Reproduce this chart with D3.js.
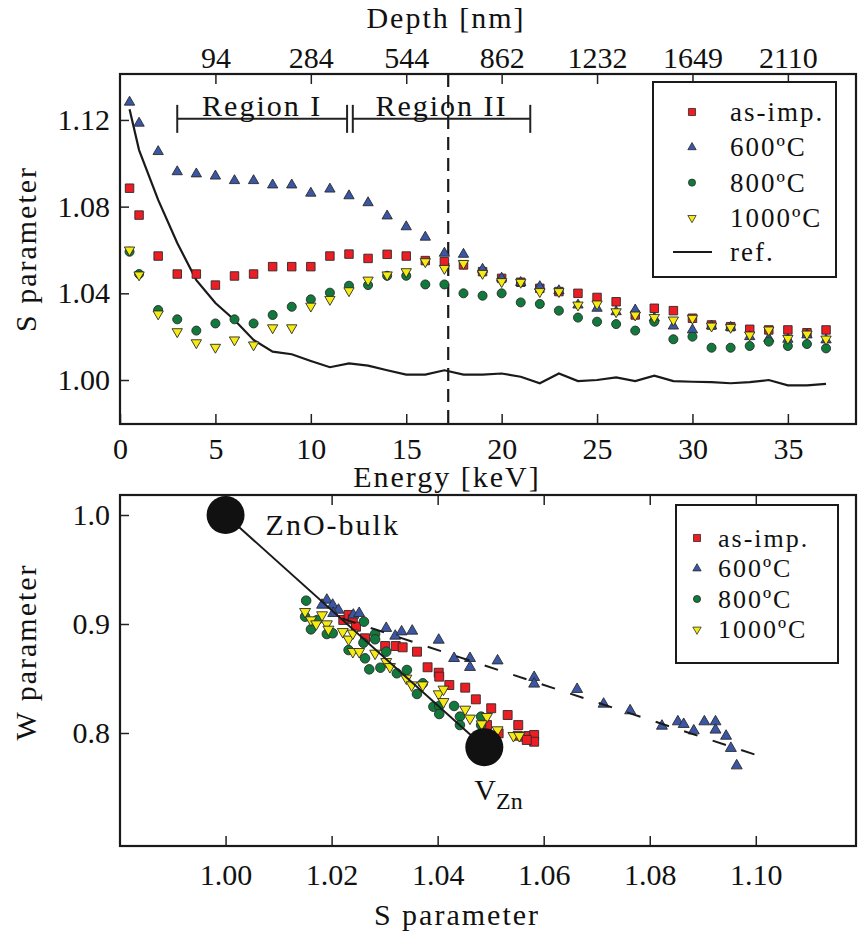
<!DOCTYPE html>
<html>
<head>
<meta charset="utf-8">
<script src="https://cdn.jsdelivr.net/npm/d3@7"></script>
<style>
    body { margin: 0; background: #fff; }
    svg text { font-family: "Liberation Serif", serif; fill: #111; }
    .word { letter-spacing: 2px; }
</style>
</head>
<body>
<svg id="fig" width="858" height="936"></svg>
<script>
// ---- top panel: S parameter vs positron energy ----
const energy = [0.5, 1, 2, 3, 4, 5, 6, 7, 8, 9, 10, 11, 12, 13, 14, 15, 16, 17, 18, 19,
    20, 21, 22, 23, 24, 25, 26, 27, 28, 29, 30, 31, 32, 33, 34, 35, 36, 37];
const s_asimp = [1.0885, 1.0761, 1.0572, 1.0489, 1.0489, 1.0438, 1.0480, 1.0489, 1.0523, 1.0523,
    1.0523, 1.0572, 1.0581, 1.0561, 1.0580, 1.0572, 1.0551, 1.0546, 1.0531, 1.0500,
    1.0469, 1.0451, 1.0423, 1.0408, 1.0400, 1.0381, 1.0361, 1.0300, 1.0331, 1.0320,
    1.0285, 1.0254, 1.0246, 1.0234, 1.0231, 1.0231, 1.0218, 1.0231];
const s_600 = [1.1282, 1.1185, 1.1054, 1.0961, 1.0951, 1.0941, 1.0920, 1.0920, 1.0900, 1.0900,
    1.0862, 1.0881, 1.0850, 1.0818, 1.0757, 1.0707, 1.0659, 1.0585, 1.0580, 1.0511,
    1.0470, 1.0450, 1.0431, 1.0412, 1.0346, 1.0331, 1.0315, 1.0323, 1.0286, 1.0249,
    1.0231, 1.0249, 1.0243, 1.0200, 1.0192, 1.0188, 1.0208, 1.0185];
const s_800 = [1.0592, 1.0489, 1.0323, 1.0280, 1.0228, 1.0261, 1.0280, 1.0261, 1.0300, 1.0338,
    1.0372, 1.0403, 1.0435, 1.0438, 1.0481, 1.0481, 1.0441, 1.0441, 1.0400, 1.0389,
    1.0400, 1.0358, 1.0351, 1.0320, 1.0288, 1.0269, 1.0258, 1.0228, 1.0269, 1.0188,
    1.0200, 1.0149, 1.0149, 1.0157, 1.0177, 1.0157, 1.0166, 1.0146];
const s_1000 = [1.0600, 1.0485, 1.0305, 1.0223, 1.0172, 1.0151, 1.0185, 1.0162, 1.0241, 1.0241,
    1.0341, 1.0372, 1.0412, 1.0461, 1.0485, 1.0500, 1.0546, 1.0515, 1.0538, 1.0492,
    1.0454, 1.0451, 1.0408, 1.0408, 1.0346, 1.0351, 1.0315, 1.0300, 1.0289, 1.0277,
    1.0285, 1.0249, 1.0243, 1.0208, 1.0231, 1.0192, 1.0212, 1.0189];
const s_ref = [1.1249, 1.1061, 1.0831, 1.0632, 1.0461, 1.0355, 1.0277, 1.0185, 1.0131, 1.0119,
    1.0088, 1.0059, 1.0077, 1.0066, 1.0045, 1.0025, 1.0025, 1.0045, 1.0025, 1.0025,
    1.0030, 1.0015, 0.9985, 1.0030, 0.9995, 1.0000, 1.0012, 0.9995, 1.0020, 0.9995,
    0.9992, 0.9990, 0.9985, 0.9990, 1.0000, 0.9975, 0.9975, 0.9982];

const energy_ticks = [0, 5, 10, 15, 20, 25, 30, 35];
const depth_ticks = [5, 10, 15, 20, 25, 30, 35];
const depth_labels = ['94', '284', '544', '862', '1232', '1649', '2110'];
const s_ticks = [1.00, 1.04, 1.08, 1.12];
const border_energy = 17.2;
const regions = [
    {'name': 'Region I', 'from': 3.0, 'to': 11.9},
    {'name': 'Region II', 'from': 12.2, 'to': 21.5}
];
const region_level = 1.1205;

// ---- bottom panel: W vs S ----
const w_asimp_s = [1.0222, 1.0232, 1.0240, 1.0246, 1.0263, 1.0301, 1.0321, 1.0334, 1.0361, 1.0381,
    1.0402, 1.0403, 1.0422, 1.0452, 1.0472, 1.0501, 1.0532, 1.0552, 1.0493, 1.0515,
    1.0551, 1.0562, 1.0571, 1.0582, 1.0582, 1.0568];
const w_asimp_w = [0.9037, 0.9083, 0.9043, 0.8975, 0.8869, 0.8798, 0.8798, 0.8786, 0.8746, 0.8603,
    0.8553, 0.8517, 0.8440, 0.8416, 0.8309, 0.8227, 0.8165, 0.8073, 0.8073, 0.7997,
    0.7975, 0.7966, 0.7972, 0.7982, 0.7920, 0.7936];
const w_600_s = [1.0191, 1.0182, 1.0202, 1.0213, 1.0203, 1.0241, 1.0252, 1.0303, 1.0320, 1.0332,
    1.0352, 1.0402, 1.0431, 1.0461, 1.0461, 1.0513, 1.0582, 1.0582, 1.0663, 1.0713,
    1.0763, 1.0823, 1.0853, 1.0864, 1.0883, 1.0903, 1.0924, 1.0924, 1.0944, 1.0953, 1.0964];
const w_600_w = [0.9220, 0.9174, 0.9174, 0.9128, 0.9098, 0.9083, 0.9098, 0.8961, 0.8890, 0.8929,
    0.8936, 0.8853, 0.8685, 0.8685, 0.8603, 0.8663, 0.8511, 0.8450, 0.8401, 0.8266,
    0.8205, 0.8064, 0.8104, 0.8080, 0.8021, 0.8104, 0.8104, 0.8028, 0.7972, 0.7860, 0.7700];
const w_800_s = [1.0152, 1.0150, 1.0161, 1.0173, 1.0191, 1.0202, 1.0261, 1.0282, 1.0282, 1.0260,
    1.0232, 1.0263, 1.0271, 1.0292, 1.0303, 1.0323, 1.0342, 1.0361, 1.0372, 1.0392,
    1.0403, 1.0403, 1.0431, 1.0442, 1.0442, 1.0482, 1.0482];
const w_800_w = [0.9214, 0.9067, 0.8951, 0.9037, 0.8908, 0.8915, 0.9021, 0.8908, 0.8860, 0.8828,
    0.8761, 0.8685, 0.8584, 0.8599, 0.8746, 0.8548, 0.8578, 0.8358, 0.8456, 0.8241,
    0.8248, 0.8174, 0.8248, 0.8150, 0.8073, 0.8150, 0.8073];
const w_1000_s = [1.0150, 1.0161, 1.0171, 1.0182, 1.0191, 1.0194, 1.0221, 1.0232, 1.0240, 1.0240,
    1.0252, 1.0282, 1.0303, 1.0310, 1.0341, 1.0351, 1.0372, 1.0402, 1.0411, 1.0411,
    1.0452, 1.0461, 1.0493, 1.0483, 1.0513, 1.0543, 1.0554];
const w_1000_w = [0.9113, 0.9037, 0.9000, 0.9083, 0.9000, 0.8951, 0.8929, 0.8860, 0.8915, 0.8746,
    0.8746, 0.8731, 0.8654, 0.8608, 0.8502, 0.8440, 0.8440, 0.8358, 0.8401, 0.8287,
    0.8217, 0.8135, 0.8150, 0.8083, 0.8028, 0.7975, 0.7975];

const bulk = {'s': 1.000, 'w': 1.000};
const vzn = {'s': 1.0488, 'w': 0.787};
const fit_s = [1.022, 1.100];
const fit_w = [0.905, 0.780];
const sb_ticks = [1.00, 1.02, 1.04, 1.06, 1.08, 1.10];
const w_ticks = [0.8, 0.9, 1.0];

const labels = ['as-imp.', '600ºC', '800ºC', '1000ºC'];
const fills = ['#ee1d24', '#3a56a5', '#10793b', '#f5ea12'];
const shapes = [d3.symbolSquare, d3.symbolTriangle, d3.symbolCircle, d3.symbolTriangle];
const flips = [false, false, false, true];

// -------- layout and scales --------
const top_box = {left: 120, right: 856, top: 74, bottom: 424};
const bot_box = {left: 120, right: 856, top: 495, bottom: 846};

const x_e = d3.scaleLinear().domain([0, 38.57]).range([top_box.left, top_box.right]);
const y_s = d3.scaleLinear().domain([0.9797, 1.1412]).range([top_box.bottom, top_box.top]);
const x_s = d3.scaleLinear().domain([0.98009, 1.1189]).range([bot_box.left, bot_box.right]);
const y_w = d3.scaleLinear().domain([0.69633, 1.01835]).range([bot_box.bottom, bot_box.top]);

const svg = d3.select('svg#fig');

function marker(i, size) {
    return d3.symbol().type(shapes[i]).size(size)();
}
function place(x, y, i) {
    return 'translate(' + x + ',' + y + ')' + (flips[i] ? ' rotate(180)' : '');
}
function style_axis(g) {
    g.select('.domain').remove();
    g.selectAll('.tick line').attr('stroke', '#222').attr('stroke-width', 1.5);
    g.selectAll('.tick text').style('font-size', '30px').attr('fill', '#111');
}
function frame(box) {
    svg.append('rect')
        .attr('x', box.left).attr('y', box.top)
        .attr('width', box.right - box.left).attr('height', box.bottom - box.top)
        .attr('fill', 'none').attr('stroke', '#1a1a1a').attr('stroke-width', 2.2);
}

// ================= TOP PANEL =================
svg.append('g')
    .attr('transform', 'translate(0,' + top_box.bottom + ')')
    .call(d3.axisBottom(x_e).tickValues(energy_ticks).tickFormat(d3.format('d')).tickSize(-10).tickPadding(14))
    .call(style_axis);
svg.append('g')
    .attr('transform', 'translate(0,' + top_box.top + ')')
    .call(d3.axisTop(x_e).tickValues(depth_ticks).tickFormat((d, i) => depth_labels[i]).tickSize(-10).tickPadding(6))
    .call(style_axis);
svg.append('g')
    .attr('transform', 'translate(' + top_box.left + ',0)')
    .call(d3.axisLeft(y_s).tickValues(s_ticks).tickFormat(d3.format('.2f')).tickSize(-9).tickPadding(10))
    .call(style_axis);

// border between regions (dashed)
svg.append('line')
    .attr('x1', x_e(border_energy)).attr('x2', x_e(border_energy))
    .attr('y1', top_box.top).attr('y2', top_box.bottom)
    .attr('stroke', '#1a1a1a').attr('stroke-width', 2.2).attr('stroke-dasharray', '13,8');

// region brackets
let reg = svg.append('g').attr('id', 'regions');
regions.forEach(r => {
    let y = y_s(region_level);
    reg.append('line')
        .attr('x1', x_e(r.from)).attr('x2', x_e(r.to)).attr('y1', y).attr('y2', y)
        .attr('stroke', '#222').attr('stroke-width', 2);
    [r.from, r.to].forEach(e => {
        reg.append('line')
            .attr('x1', x_e(e)).attr('x2', x_e(e)).attr('y1', y - 14).attr('y2', y + 14)
            .attr('stroke', '#222').attr('stroke-width', 2);
    });
    reg.append('text')
        .attr('class', 'word')
        .attr('x', x_e((r.from + r.to) / 2)).attr('y', y - 3)
        .attr('text-anchor', 'middle')
        .style('font-size', '30px')
        .text(r.name);
});

// reference line
svg.append('path')
    .datum(energy.map((e, i) => [e, s_ref[i]]))
    .attr('d', d3.line().x(d => x_e(d[0])).y(d => y_s(d[1])))
    .attr('fill', 'none').attr('stroke', '#1a1a1a').attr('stroke-width', 2.2);

// the four samples
const top_series = [s_asimp, s_600, s_800, s_1000];
top_series.forEach((vals, i) => {
    svg.append('g').selectAll('path')
        .data(energy.map((e, j) => [e, vals[j]]))
        .enter()
        .append('path')
        .attr('d', marker(i, i === 2 ? 64 : (i === 0 ? 72 : 46)))
        .attr('transform', d => place(x_e(d[0]), y_s(d[1]), i))
        .attr('fill', fills[i]).attr('stroke', '#2a2a2a').attr('stroke-width', 0.9);
});

frame(top_box);

// legend top
let leg = svg.append('g').attr('id', 'legend_top');
leg.append('rect').attr('x', 653).attr('y', 82).attr('width', 183).attr('height', 195)
    .attr('fill', '#fff').attr('stroke', '#1a1a1a').attr('stroke-width', 2);
labels.forEach((l, i) => {
    let y = 112 + i * 35.3;
    leg.append('path').attr('d', marker(i, i === 2 ? 40 : (i === 0 ? 50 : 30)))
        .attr('transform', place(692, y, i))
        .attr('fill', fills[i]).attr('stroke', '#2a2a2a').attr('stroke-width', 0.8);
    leg.append('text').attr('class', 'word').attr('x', 730).attr('y', y).attr('dy', '0.33em')
        .style('font-size', '27px').text(l);
});
leg.append('line').attr('x1', 673).attr('x2', 712).attr('y1', 252).attr('y2', 252)
    .attr('stroke', '#1a1a1a').attr('stroke-width', 2.2);
leg.append('text').attr('class', 'word').attr('x', 730).attr('y', 252).attr('dy', '0.33em')
    .style('font-size', '27px').text('ref.');

// axis titles
svg.append('text').attr('class', 'word').attr('x', 446).attr('y', 28).attr('text-anchor', 'middle')
    .style('font-size', '30px').text('Depth [nm]');
svg.append('text').attr('class', 'word').attr('x', 447).attr('y', 487).attr('text-anchor', 'middle')
    .style('font-size', '30px').text('Energy [keV]');
svg.append('text').attr('class', 'word').attr('transform', 'translate(36,249) rotate(-90)')
    .attr('text-anchor', 'middle').style('font-size', '30px').text('S parameter');

// ================= BOTTOM PANEL =================
svg.append('g')
    .attr('transform', 'translate(0,' + bot_box.bottom + ')')
    .call(d3.axisBottom(x_s).tickValues(sb_ticks).tickFormat(d3.format('.2f')).tickSize(-10).tickPadding(18))
    .call(style_axis);
svg.append('g')
    .attr('transform', 'translate(0,' + bot_box.top + ')')
    .call(d3.axisTop(x_s).tickValues(sb_ticks).tickFormat('').tickSize(-10))
    .call(style_axis);
svg.append('g')
    .attr('transform', 'translate(' + bot_box.left + ',0)')
    .call(d3.axisLeft(y_w).tickValues(w_ticks).tickFormat(d3.format('.1f')).tickSize(-9).tickPadding(10))
    .call(style_axis);

const bot_series = [[w_asimp_s, w_asimp_w], [w_600_s, w_600_w], [w_800_s, w_800_w], [w_1000_s, w_1000_w]];
bot_series.forEach((ser, i) => {
    svg.append('g').selectAll('path')
        .data(ser[0].map((s, j) => [s, ser[1][j]]))
        .enter()
        .append('path')
        .attr('d', marker(i, i === 2 ? 72 : (i === 0 ? 80 : 52)))
        .attr('transform', d => place(x_s(d[0]), y_w(d[1]), i))
        .attr('fill', fills[i]).attr('stroke', '#2a2a2a').attr('stroke-width', 0.9);
});

// lines: bulk -> V_Zn (solid) and the 600C trend (dashed)
svg.append('line')
    .attr('x1', x_s(bulk.s)).attr('y1', y_w(bulk.w)).attr('x2', x_s(vzn.s)).attr('y2', y_w(vzn.w))
    .attr('stroke', '#1a1a1a').attr('stroke-width', 2);
svg.append('line')
    .attr('x1', x_s(fit_s[0])).attr('y1', y_w(fit_w[0])).attr('x2', x_s(fit_s[1])).attr('y2', y_w(fit_w[1]))
    .attr('stroke', '#1a1a1a').attr('stroke-width', 2).attr('stroke-dasharray', '14,16');

[bulk, vzn].forEach(p => {
    svg.append('circle').attr('cx', x_s(p.s)).attr('cy', y_w(p.w)).attr('r', 19).attr('fill', '#111');
});
svg.append('text').attr('class', 'word').attr('x', x_s(bulk.s) + 40).attr('y', y_w(bulk.w) + 20)
    .style('font-size', '30px').text('ZnO-bulk');
let vlab = svg.append('text').attr('x', x_s(vzn.s) - 10).attr('y', y_w(vzn.w) + 53).style('font-size', '30px');
vlab.append('tspan').text('V');
vlab.append('tspan').attr('dy', 9).style('font-size', '24px').text('Zn');

frame(bot_box);

// legend bottom
let leg2 = svg.append('g').attr('id', 'legend_bot');
leg2.append('rect').attr('x', 676).attr('y', 505).attr('width', 162).attr('height', 158)
    .attr('fill', '#fff').attr('stroke', '#1a1a1a').attr('stroke-width', 2);
labels.forEach((l, i) => {
    let y = 538 + i * 30.5;
    leg2.append('path').attr('d', marker(i, i === 2 ? 40 : (i === 0 ? 50 : 30)))
        .attr('transform', place(697, y, i))
        .attr('fill', fills[i]).attr('stroke', '#2a2a2a').attr('stroke-width', 0.8);
    leg2.append('text').attr('class', 'word').attr('x', 718).attr('y', y).attr('dy', '0.33em')
        .style('font-size', '26px').text(l);
});

svg.append('text').attr('class', 'word').attr('x', 457).attr('y', 925).attr('text-anchor', 'middle')
    .style('font-size', '30px').text('S parameter');
svg.append('text').attr('class', 'word').attr('transform', 'translate(36,652) rotate(-90)')
    .attr('text-anchor', 'middle').style('font-size', '30px').text('W parameter');
</script>
</body>
</html>
